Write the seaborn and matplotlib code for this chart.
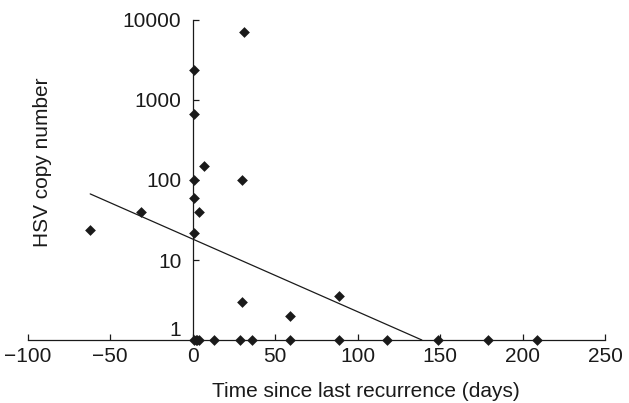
import matplotlib
matplotlib.use("Agg")
import matplotlib.pyplot as plt
import seaborn as sns
import pandas as pd

# data
# days since last recurrence and HSV copy number (undetectable samples sit on the 1 line)
days = [-62, -31, 1, 1, 1, 1, 1, 4, 7, 31, 30, 30, 59, 89,
        1, 2, 3, 4, 13, 29, 36, 59, 89, 118, 149, 179, 209]
copies = [24, 40, 2400, 660, 100, 60, 22, 40, 150, 7000, 100, 3, 2, 3.5,
          1, 1, 1, 1, 1, 1, 1, 1, 1, 1, 1, 1, 1]

# fitted trend line end points (as drawn in the reference)
trend_days = [-62, 139]
trend_copies = [67, 1]

x_ticks = [-100, -50, 0, 50, 100, 150, 200, 250]
y_ticks = [1, 10, 100, 1000, 10000]
y_labels = ["1", "10", "100", "1000", "10000"]

df = pd.DataFrame({"days": days, "copies": copies})
trend = pd.DataFrame({"days": trend_days, "copies": trend_copies})

sns.set_style("white")
plt.rcParams["font.family"] = ["Liberation Sans", "DejaVu Sans"]
ink = "#1a1a1a"

fig = plt.figure(figsize=(6.29, 4.03), dpi=100)
ax = fig.add_axes([27.5 / 629, 63 / 403, 577.5 / 629, 320 / 403])

sns.lineplot(data=trend, x="days", y="copies", color=ink, linewidth=0.9, ax=ax)
sns.scatterplot(data=df, x="days", y="copies", marker="D", s=30, color=ink,
                edgecolor=ink, linewidth=0, clip_on=False, zorder=5, ax=ax)

ax.set_yscale("log")
ax.set_xlim(-100, 250)
ax.set_ylim(1, 10000)
ax.set_xticks(x_ticks)
ax.set_yticks(y_ticks, y_labels)
ax.minorticks_off()

# spines: y axis through day 0, x axis along copy number 1
ax.spines["left"].set_position(("data", 0))
ax.spines["top"].set_visible(False)
ax.spines["right"].set_visible(False)
for side in ["left", "bottom"]:
    ax.spines[side].set_color(ink)
    ax.spines[side].set_linewidth(0.9)

ax.tick_params(axis="both", direction="in", length=4.5, width=0.9, color=ink,
               labelsize=15, labelcolor=ink, bottom=True, left=True)
ax.tick_params(axis="x", pad=5)
ax.tick_params(axis="y", pad=8)
ax.get_yticklabels()[0].set_va("bottom")

ax.set_xlabel("Time since last recurrence (days)", fontsize=15, color=ink)
ax.set_ylabel("HSV copy number", fontsize=15, color=ink)
ax.xaxis.set_label_coords(0.586, -0.13)
ax.yaxis.set_label_coords(0.042, 0.555)

fig.savefig("out.png", dpi=100)
